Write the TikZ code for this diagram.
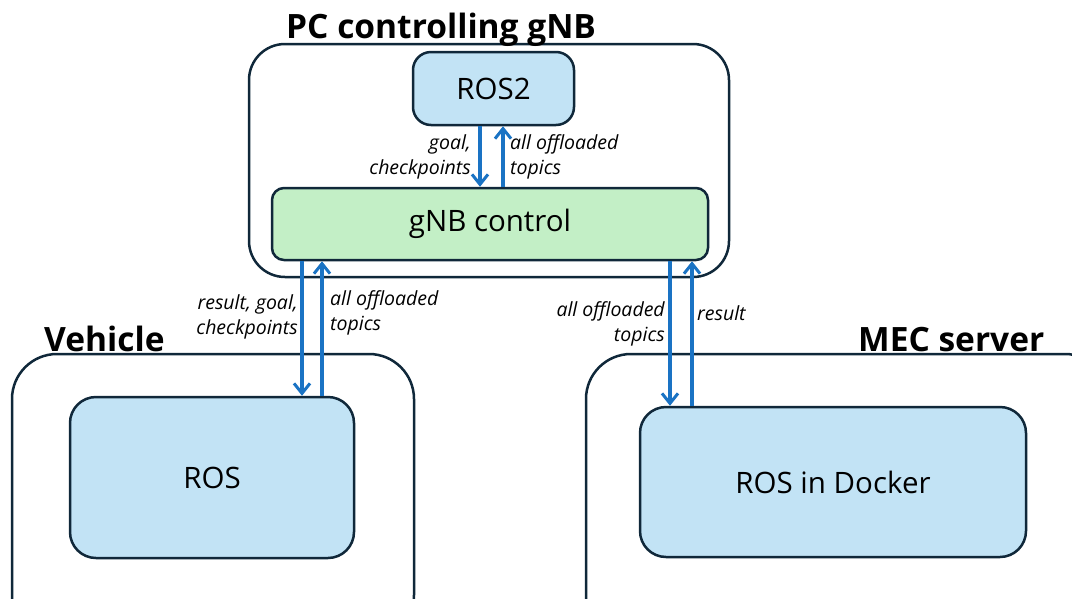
\documentclass[tikz,border=0pt]{standalone}
\usepackage{fontspec}
\setmainfont{Open Sans}
\usetikzlibrary{arrows.meta}
\definecolor{edge}{HTML}{10283A}
\definecolor{rosblue}{HTML}{C2E3F5}
\definecolor{ctlgreen}{HTML}{C3EFC6}
\definecolor{flow}{HTML}{1A73C4}
\tikzset{
  host/.style={draw=edge, line width=2.5pt, fill=white, rounded corners=36},
  rosbox/.style={draw=edge, line width=2.5pt, fill=rosblue, rounded corners=18, font=\fontsize{29.5}{32}\selectfont},
  ctlbox/.style={draw=edge, line width=2.5pt, fill=ctlgreen, rounded corners=12, font=\fontsize{29.5}{32}\selectfont},
  title/.style={font=\fontsize{33.5}{36}\selectfont\bfseries, inner sep=0, anchor=base west},
  lbl/.style={font=\fontsize{19.5}{25}\selectfont\itshape, inner sep=0, align=left},
  lblr/.style={font=\fontsize{19.5}{25}\selectfont\itshape, inner sep=0, align=right},
  flowarrow/.style={draw=flow, line width=3.4pt, -{Straight Barb[length=10pt,width=16pt,line width=3pt]}},
}
\begin{document}
\begin{tikzpicture}[x=1pt,y=-1pt]
\useasboundingbox (0,0) rectangle (1072,598);
\fill[white] (0,0) rectangle (1072,598);

% hosts
\draw[host] (249,44) rectangle (729,277);
\draw[host, rounded corners=45] (12,354) rectangle (414,640);
\draw[host, rounded corners=45] (586,354) rectangle (1110,640);

% titles
\node[title] (tpc) at (286,38) {PC controlling gNB};
\node[title] (tveh) at (44,351) {Vehicle};
\node[title] (tmec) at (858,351) {MEC server};

% components
\node[rosbox, minimum width=161, minimum height=73] (ros2) at (493.5,88.5) {ROS2};
\node[ctlbox, minimum width=436, minimum height=72] (gnb) at (490,224) {gNB control};
\node[rosbox, rounded corners=26, minimum width=284, minimum height=161] (ros) at (212,477.5) {ROS};
\node[rosbox, rounded corners=26, minimum width=386, minimum height=150] (dock) at (833,482) {ROS in Docker};

% ROS2 <-> gNB control
\draw[flowarrow] (ros2.south -| 480,0) -- (gnb.north -| 480,0);
\draw[flowarrow] (gnb.north -| 503,0) -- (ros2.south -| 503,0);
\node[lblr, anchor=north east] (l1) at (471,134.5) {goal,\\checkpoints};
\node[lbl, anchor=north west] (l2) at (510,134.5) {all offloaded\\topics};

% gNB control <-> vehicle ROS
\draw[flowarrow] (gnb.south -| 302,0) -- (ros.north -| 302,0);
\draw[flowarrow] (ros.north -| 322,0) -- (gnb.south -| 322,0);
\node[lblr, anchor=north east] (l3) at (298,294.5) {result, goal,\\checkpoints};
\node[lbl, anchor=north west] (l4) at (330,290.5) {all offloaded\\topics};

% gNB control <-> MEC docker
\draw[flowarrow] (gnb.south -| 670,0) -- (dock.north -| 670,0);
\draw[flowarrow] (dock.north -| 692,0) -- (gnb.south -| 692,0);
\node[lblr, anchor=north east] (l5) at (665,301.5) {all offloaded\\topics};
\node[lbl, anchor=north west] (l6) at (697,305.5) {result};
\end{tikzpicture}
\end{document}
